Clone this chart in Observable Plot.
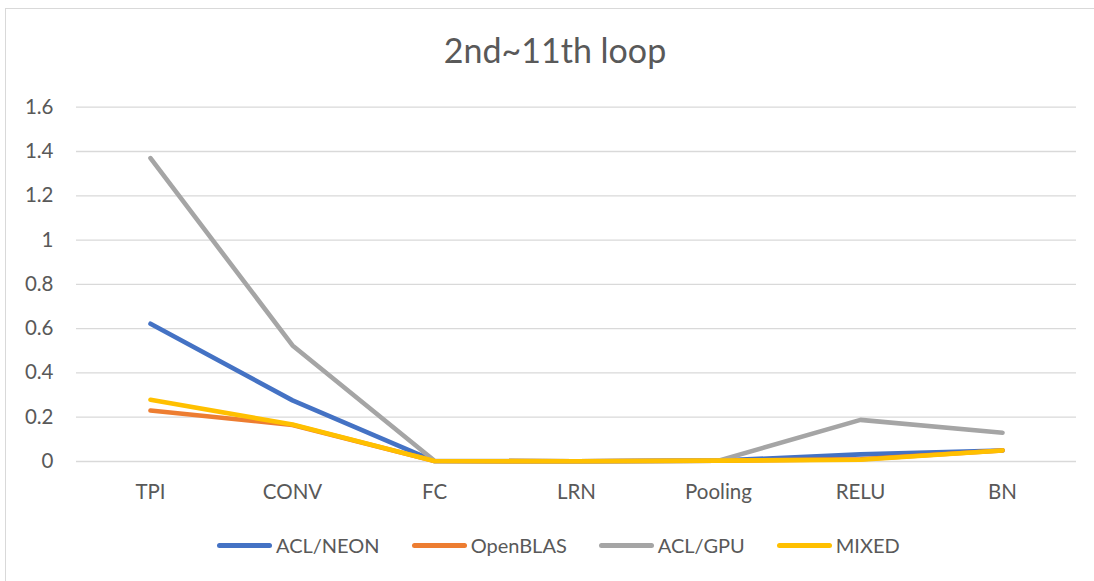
<!DOCTYPE html>
<html>
<head>
<meta charset="utf-8">
<script src="https://cdn.jsdelivr.net/npm/d3@7"></script>
<script src="https://cdn.jsdelivr.net/npm/@observablehq/plot@0.6"></script>
<style>
  html, body { margin: 0; padding: 0; background: #fff; }
  body { width: 1094px; height: 581px; position: relative; overflow: hidden; font-family: Lato, "Open Sans", sans-serif; }
  #frame { position: absolute; left: 5px; top: 8px; right: -5px; bottom: -5px; border-top: 1.5px solid #d9d9d9; border-left: 1.5px solid #d9d9d9; }
  #title { position: absolute; left: 0; width: 1110px; top: 29px; text-align: center; font-size: 34px; color: #595959; }
  #chart { position: absolute; left: 0; top: 0; }
  #legend { position: absolute; left: 217px; top: 533px; display: flex; gap: 32px; font-size: 20px; color: #595959; white-space: nowrap; }
  .item { display: flex; align-items: center; }
  .swatch { width: 55px; height: 5px; border-radius: 3px; margin-right: 4px; }
</style>
</head>
<body>
<div id="frame"></div>
<div id="chart"></div>
<div id="title">2nd~11th loop</div>
<div id="legend"></div>
<script>
const categories = ["TPI", "CONV", "FC", "LRN", "Pooling", "RELU", "BN"];
const seriesNames = ["ACL/NEON", "OpenBLAS", "ACL/GPU", "MIXED"];
const seriesColors = ["#4472C4", "#ED7D31", "#A5A5A5", "#FFC000"];
const aclNeon  = [0.622, 0.276, 0.002, 0.001, 0.004, 0.032, 0.050];
const openBlas = [0.230, 0.165, 0.002, 0.001, 0.004, 0.010, 0.050];
const aclGpu   = [1.370, 0.524, 0.003, 0.001, 0.004, 0.188, 0.130];
const mixed    = [0.279, 0.167, 0.002, 0.001, 0.004, 0.008, 0.050];
const yTicks = [0, 0.2, 0.4, 0.6, 0.8, 1, 1.2, 1.4, 1.6];

const seriesValues = [aclNeon, openBlas, aclGpu, mixed];
const data = [];
seriesNames.forEach((s, i) => {
  categories.forEach((c, j) => data.push({series: s, category: c, value: seriesValues[i][j]}));
});

const plot = Plot.plot({
  width: 1094,
  height: 520,
  marginLeft: 76,
  marginRight: 18,
  marginTop: 106.7,
  marginBottom: 59,
  style: { fontFamily: "Lato, 'Open Sans', sans-serif", fontSize: "20px", color: "#595959", background: "transparent" },
  x: { type: "point", domain: categories, padding: 0.5, label: null },
  y: { domain: [0, 1.6], label: null },
  color: { domain: seriesNames, range: seriesColors },
  marks: [
    Plot.gridY(yTicks, { stroke: "#d9d9d9", strokeOpacity: 1, strokeWidth: 1.3 }),
    Plot.axisY(yTicks, { tickSize: 0, tickPadding: 23, tickFormat: d => String(+d.toFixed(1)), fill: "#595959", fontSize: 20.5 }),
    Plot.axisX({ tickSize: 0, tickPadding: 23, fill: "#595959", fontSize: 20.5 }),
    Plot.line(data, { x: "category", y: "value", z: "series", stroke: "series", strokeWidth: 4.6, strokeLinecap: "round", strokeLinejoin: "round" })
  ]
});
document.getElementById("chart").appendChild(plot);

const legend = document.getElementById("legend");
seriesNames.forEach((s, i) => {
  const it = document.createElement("div");
  it.className = "item";
  const sw = document.createElement("div");
  sw.className = "swatch";
  sw.style.background = seriesColors[i];
  const tx = document.createElement("span");
  tx.textContent = s;
  it.appendChild(sw); it.appendChild(tx);
  legend.appendChild(it);
});
</script>
</body>
</html>
